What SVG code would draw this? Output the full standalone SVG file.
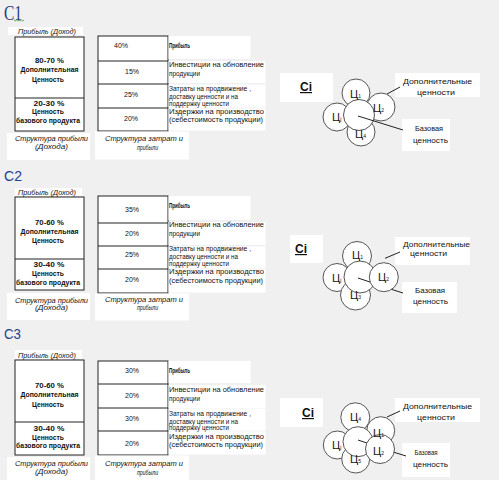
<svg xmlns="http://www.w3.org/2000/svg" width="499" height="480" viewBox="0 0 499 480">
<style>
.bg{fill:#f0f0f0}
.wb{fill:#fff}
.box{fill:#fff;stroke:#222;stroke-width:1}
.div{stroke:#222;stroke-width:1}
.t{font-family:"Liberation Sans",Arial,sans-serif;font-size:7px;fill:#111}
.b{font-weight:bold}
.i{font-style:italic}
.c{text-anchor:middle}
.circ{fill:#fff;stroke:#555;stroke-width:1}
.ts{font-family:"Liberation Sans",Arial,sans-serif;font-size:11px;fill:#111}
.sub{font-size:5px}
.ci{font-family:"Liberation Sans",Arial,sans-serif;font-size:12px;font-weight:bold;fill:#111;text-decoration:underline}
.lbl{font-family:"Liberation Sans",Arial,sans-serif;font-size:8px;fill:#111}
.con{stroke:#222;stroke-width:1;fill:none}
.ttl2{font-family:"Liberation Sans",Arial,sans-serif;font-size:15px;fill:#23408e}
</style>
<rect class="bg" x="0" y="0" width="499" height="480"/>

<!-- Section 1 -->
<g id="title1">
<text x="4" y="19.5" font-family="Liberation Serif, serif" font-size="20" fill="#1f3a7a" textLength="18" lengthAdjust="spacingAndGlyphs">C1</text>
<path d="M14,20 l1.25,1 l1.25,-1 l1.25,1 l1.25,-1 l1.25,1 l1.25,-1 l1.25,1 l1.25,-1" fill="none" stroke="#3a9a3a" stroke-width="0.8"/>
</g>
<g id="profit1">
<rect class="wb" x="8" y="27" width="75" height="8"/>
<text class="t i c" x="47" y="33.5" textLength="58" lengthAdjust="spacingAndGlyphs">Прибыль (Доход)</text>
<rect class="box" x="15" y="37" width="69" height="94"/>
<line class="div" x1="15" y1="98" x2="84" y2="98"/>
<text class="t b c" x="49.5" y="62.5" textLength="29" lengthAdjust="spacingAndGlyphs">80-70 %</text>
<text class="t b c" x="49.5" y="71.5" textLength="58" lengthAdjust="spacingAndGlyphs">Дополнительная</text>
<text class="t b c" x="48" y="81.5" textLength="32" lengthAdjust="spacingAndGlyphs">Ценность</text>
<text class="t b c" x="49" y="105.5" textLength="31" lengthAdjust="spacingAndGlyphs">20-30 %</text>
<text class="t b c" x="48" y="113.5" textLength="32" lengthAdjust="spacingAndGlyphs">Ценность</text>
<text class="t b c" x="48" y="122.5" textLength="64" lengthAdjust="spacingAndGlyphs">базового продукта</text>
<rect class="wb" x="7" y="133" width="83" height="27"/>
<text class="t i c" x="51.5" y="140.5" textLength="73" lengthAdjust="spacingAndGlyphs">Структура прибыли</text>
<text class="t i c" x="51.5" y="148.5" textLength="33" lengthAdjust="spacingAndGlyphs">(Дохода)</text>
</g>
<g id="cost1">
<rect class="box" x="98" y="36" width="70" height="95"/>
<line class="div" x1="98" y1="61" x2="168" y2="61"/>
<line class="div" x1="98" y1="84" x2="168" y2="84"/>
<line class="div" x1="98" y1="108" x2="168" y2="108"/>
<text class="t c" x="121" y="47.5">40%</text>
<text class="t c" x="132" y="73.5">15%</text>
<text class="t c" x="131" y="96.5">25%</text>
<text class="t c" x="131" y="120.5">20%</text>
<rect class="wb" x="168.5" y="36" width="82" height="23"/>
<rect class="wb" x="168.5" y="61" width="97" height="22"/>
<rect class="wb" x="168.5" y="84.5" width="97" height="23"/>
<rect class="wb" x="168.5" y="108.5" width="97" height="22"/>
<text class="t b" x="169" y="47.5" textLength="21" lengthAdjust="spacingAndGlyphs">Прибыль</text>
<text class="t" x="169" y="66.5" textLength="95" lengthAdjust="spacingAndGlyphs">Инвестиции на обновление</text>
<text class="t" x="169" y="75.5" textLength="31" lengthAdjust="spacingAndGlyphs">продукции</text>
<text class="t" x="169" y="90.5" textLength="82" lengthAdjust="spacingAndGlyphs">Затраты на продвижение ,</text>
<text class="t" x="169" y="98.5" textLength="69" lengthAdjust="spacingAndGlyphs">доставку ценности и на</text>
<text class="t" x="169" y="105.5" textLength="60" lengthAdjust="spacingAndGlyphs">поддержку ценности</text>
<text class="t" x="169" y="113.5" textLength="95" lengthAdjust="spacingAndGlyphs">Издержки на производство</text>
<text class="t" x="169" y="121.5" textLength="94" lengthAdjust="spacingAndGlyphs">(себестоимость продукции)</text>
<rect class="wb" x="95" y="131.5" width="94" height="28"/>
<text class="t i c" x="144" y="140.5" textLength="78" lengthAdjust="spacingAndGlyphs">Структура затрат и</text>
<text class="t i c" x="147.5" y="149.5" textLength="21" lengthAdjust="spacingAndGlyphs">прибыли</text>
</g>
<g id="ci1">
<rect class="wb" x="280" y="73" width="53" height="29"/>
<text class="ci" x="300" y="91">Ci</text>
</g>
<g id="values1">
<circle class="circ" cx="356" cy="93" r="14"/>
<circle class="circ" cx="381" cy="107" r="14"/>
<circle class="circ" cx="337" cy="117" r="14"/>
<circle class="circ" cx="361" cy="132" r="14"/>
<circle class="circ" cx="359" cy="115" r="15.5"/>
<text class="ts" x="350" y="97.5">Ц<tspan class="sub">1</tspan></text>
<text class="ts" x="373" y="112">Ц<tspan class="sub">2</tspan></text>
<text class="ts" x="332" y="120.5">Ц<tspan class="sub">j</tspan></text>
<text class="ts" x="355" y="138">Ц<tspan class="sub">4</tspan></text>
</g>
<g id="labels1">
<rect class="wb" x="395" y="73" width="85" height="24"/>
<text class="lbl c" x="437.5" y="84" textLength="69" lengthAdjust="spacingAndGlyphs">Дополнительные</text>
<text class="lbl c" x="436" y="95" textLength="38" lengthAdjust="spacingAndGlyphs">ценности</text>
<rect class="wb" x="402" y="119" width="48" height="32"/>
<text class="lbl c" x="429" y="130.5" textLength="28" lengthAdjust="spacingAndGlyphs">Базовая</text>
<text class="lbl c" x="430.5" y="142.5" textLength="35" lengthAdjust="spacingAndGlyphs">ценность</text>
</g>

<!-- Section 2 -->
<g id="title2">
<text class="ttl2" x="4" y="181" textLength="18" lengthAdjust="spacingAndGlyphs">C2</text>
</g>
<g id="profit2">
<rect class="wb" x="15" y="188" width="67" height="8"/>
<text class="t i c" x="47" y="194.5" textLength="58" lengthAdjust="spacingAndGlyphs">Прибыль (Доход)</text>
<rect class="box" x="15" y="197" width="69" height="93"/>
<line class="div" x1="15" y1="259" x2="84" y2="259"/>
<text class="t b c" x="49.5" y="224.5" textLength="29" lengthAdjust="spacingAndGlyphs">70-60 %</text>
<text class="t b c" x="49.5" y="233.5" textLength="58" lengthAdjust="spacingAndGlyphs">Дополнительная</text>
<text class="t b c" x="48" y="242.5" textLength="32" lengthAdjust="spacingAndGlyphs">Ценность</text>
<text class="t b c" x="49" y="266.5" textLength="31" lengthAdjust="spacingAndGlyphs">30-40 %</text>
<text class="t b c" x="48" y="275.5" textLength="32" lengthAdjust="spacingAndGlyphs">Ценность</text>
<text class="t b c" x="48" y="284.5" textLength="64" lengthAdjust="spacingAndGlyphs">базового продукта</text>
<rect class="wb" x="7" y="293" width="83" height="27"/>
<text class="t i c" x="51.5" y="302.5" textLength="73" lengthAdjust="spacingAndGlyphs">Структура прибыли</text>
<text class="t i c" x="51.5" y="310" textLength="33" lengthAdjust="spacingAndGlyphs">(Дохода)</text>
</g>
<g id="cost2">
<rect class="box" x="98" y="196" width="70" height="97"/>
<line class="div" x1="98" y1="223" x2="168" y2="223"/>
<line class="div" x1="98" y1="246" x2="168" y2="246"/>
<line class="div" x1="98" y1="269" x2="168" y2="269"/>
<text class="t c" x="132" y="211.5">35%</text>
<text class="t c" x="132" y="235.5">20%</text>
<text class="t c" x="132" y="256.5">25%</text>
<text class="t c" x="132" y="281.5">20%</text>
<rect class="wb" x="168.5" y="196" width="82" height="24"/>
<rect class="wb" x="168.5" y="222" width="97" height="23"/>
<rect class="wb" x="168.5" y="246.5" width="97" height="22"/>
<rect class="wb" x="168.5" y="269.5" width="97" height="23"/>
<text class="t b" x="169" y="207.5" textLength="21" lengthAdjust="spacingAndGlyphs">Прибыль</text>
<text class="t" x="169" y="226.5" textLength="95" lengthAdjust="spacingAndGlyphs">Инвестиции на обновление</text>
<text class="t" x="169" y="235.5" textLength="31" lengthAdjust="spacingAndGlyphs">продукции</text>
<text class="t" x="169" y="250.5" textLength="82" lengthAdjust="spacingAndGlyphs">Затраты на продвижение ,</text>
<text class="t" x="169" y="258.5" textLength="69" lengthAdjust="spacingAndGlyphs">доставку ценности и на</text>
<text class="t" x="169" y="265.5" textLength="60" lengthAdjust="spacingAndGlyphs">поддержку ценности</text>
<text class="t" x="169" y="273.5" textLength="95" lengthAdjust="spacingAndGlyphs">Издержки на производство</text>
<text class="t" x="169" y="282.5" textLength="94" lengthAdjust="spacingAndGlyphs">(себестоимость продукции)</text>
<rect class="wb" x="95" y="293.5" width="94" height="27"/>
<text class="t i c" x="144" y="301.5" textLength="78" lengthAdjust="spacingAndGlyphs">Структура затрат и</text>
<text class="t i c" x="147.5" y="309.5" textLength="21" lengthAdjust="spacingAndGlyphs">прибыли</text>
</g>
<g id="ci2">
<rect class="wb" x="290" y="235" width="33" height="28"/>
<text class="ci" x="295" y="253">Ci</text>
</g>
<g id="values2">
<circle class="circ" cx="357" cy="256" r="14.5"/>
<circle class="circ" cx="337" cy="277.5" r="14"/>
<circle class="circ" cx="355.5" cy="295" r="15"/>
<circle class="circ" cx="360" cy="277" r="16"/>
<circle class="circ" cx="383.8" cy="277.2" r="14.5"/>
<text class="ts" x="352" y="259">Ц<tspan class="sub">1</tspan></text>
<text class="ts" x="378" y="281">Ц<tspan class="sub">2</tspan></text>
<text class="ts" x="332" y="282">Ц<tspan class="sub">j</tspan></text>
<text class="ts" x="350" y="298.5">Ц<tspan class="sub">3</tspan></text>
</g>
<g id="labels2">
<rect class="wb" x="395" y="237" width="75" height="28"/>
<text class="lbl c" x="436.5" y="247" textLength="67" lengthAdjust="spacingAndGlyphs">Дополнительные</text>
<text class="lbl c" x="428.5" y="256" textLength="37" lengthAdjust="spacingAndGlyphs">ценности</text>
<rect class="wb" x="402" y="282" width="55" height="31"/>
<text class="lbl c" x="430" y="292.5" textLength="30" lengthAdjust="spacingAndGlyphs">Базовая</text>
<text class="lbl c" x="430.5" y="303.5" textLength="35" lengthAdjust="spacingAndGlyphs">ценность</text>
</g>

<!-- Section 3 -->
<g id="title3">
<text class="ttl2" x="4" y="339" textLength="17" lengthAdjust="spacingAndGlyphs">C3</text>
</g>
<g id="profit3">
<rect class="wb" x="15" y="350" width="67" height="9"/>
<text class="t i c" x="47" y="357.5" textLength="58" lengthAdjust="spacingAndGlyphs">Прибыль (Доход)</text>
<rect class="box" x="15" y="360" width="69" height="95"/>
<line class="div" x1="15" y1="422" x2="84" y2="422"/>
<text class="t b c" x="49.5" y="387.5" textLength="29" lengthAdjust="spacingAndGlyphs">70-60 %</text>
<text class="t b c" x="49.5" y="396.5" textLength="58" lengthAdjust="spacingAndGlyphs">Дополнительная</text>
<text class="t b c" x="48" y="406.5" textLength="32" lengthAdjust="spacingAndGlyphs">Ценность</text>
<text class="t b c" x="49" y="430.5" textLength="31" lengthAdjust="spacingAndGlyphs">30-40 %</text>
<text class="t b c" x="48" y="439.5" textLength="32" lengthAdjust="spacingAndGlyphs">Ценность</text>
<text class="t b c" x="48" y="447.5" textLength="64" lengthAdjust="spacingAndGlyphs">базового продукта</text>
<rect class="wb" x="7" y="457" width="83" height="23"/>
<text class="t i c" x="51.5" y="465.5" textLength="73" lengthAdjust="spacingAndGlyphs">Структура прибыли</text>
<text class="t i c" x="51.5" y="473.5" textLength="33" lengthAdjust="spacingAndGlyphs">(Дохода)</text>
</g>
<g id="cost3">
<rect class="box" x="98" y="361" width="70" height="94"/>
<line class="div" x1="98" y1="384" x2="168" y2="384"/>
<line class="div" x1="98" y1="408" x2="168" y2="408"/>
<line class="div" x1="98" y1="431" x2="168" y2="431"/>
<text class="t c" x="132" y="372.5">30%</text>
<text class="t c" x="132" y="397.5">20%</text>
<text class="t c" x="132" y="420.5">30%</text>
<text class="t c" x="132" y="445.5">20%</text>
<rect class="wb" x="168.5" y="361" width="82" height="22"/>
<rect class="wb" x="168.5" y="385" width="97" height="23"/>
<rect class="wb" x="168.5" y="408.5" width="97" height="22"/>
<rect class="wb" x="168.5" y="431.5" width="97" height="23"/>
<text class="t b" x="169" y="372.5" textLength="21" lengthAdjust="spacingAndGlyphs">Прибыль</text>
<text class="t" x="169" y="391.5" textLength="95" lengthAdjust="spacingAndGlyphs">Инвестиции на обновление</text>
<text class="t" x="169" y="400.5" textLength="31" lengthAdjust="spacingAndGlyphs">продукции</text>
<text class="t" x="169" y="415.5" textLength="82" lengthAdjust="spacingAndGlyphs">Затраты на продвижение ,</text>
<text class="t" x="169" y="423.5" textLength="69" lengthAdjust="spacingAndGlyphs">доставку ценности и на</text>
<text class="t" x="169" y="430" textLength="60" lengthAdjust="spacingAndGlyphs">поддержку ценности</text>
<text class="t" x="169" y="438.5" textLength="95" lengthAdjust="spacingAndGlyphs">Издержки на производство</text>
<text class="t" x="169" y="446.5" textLength="94" lengthAdjust="spacingAndGlyphs">(себестоимость продукции)</text>
<rect class="wb" x="95" y="455.5" width="94" height="24.5"/>
<text class="t i c" x="144" y="465.5" textLength="78" lengthAdjust="spacingAndGlyphs">Структура затрат и</text>
<text class="t i c" x="147.5" y="474.5" textLength="21" lengthAdjust="spacingAndGlyphs">прибыли</text>
</g>
<g id="ci3">
<rect class="wb" x="280" y="398" width="43" height="29"/>
<text class="ci" x="302" y="417">Ci</text>
</g>
<g id="values3">
<circle class="circ" cx="355.3" cy="417.3" r="14.5"/>
<circle class="circ" cx="380.7" cy="430.7" r="14"/>
<circle class="circ" cx="337.3" cy="445" r="14"/>
<circle class="circ" cx="355.7" cy="459" r="14"/>
<circle class="circ" cx="358" cy="441.7" r="15"/>
<circle class="circ" cx="380" cy="449" r="14.5"/>
<text class="ts" x="350" y="421">Ц<tspan class="sub">4</tspan></text>
<text class="ts" x="373" y="437">Ц<tspan class="sub">1</tspan></text>
<text class="ts" x="332" y="448.5">Ц<tspan class="sub">j</tspan></text>
<text class="ts" x="350" y="462.5">Ц<tspan class="sub">5</tspan></text>
<text class="ts" x="373" y="455">Ц<tspan class="sub">2</tspan></text>
</g>
<g id="labels3">
<rect class="wb" x="395" y="398" width="85" height="24"/>
<text class="lbl c" x="437.5" y="408.5" textLength="69" lengthAdjust="spacingAndGlyphs">Дополнительные</text>
<text class="lbl c" x="436" y="419.5" textLength="38" lengthAdjust="spacingAndGlyphs">ценности</text>
<rect class="wb" x="402" y="443" width="48" height="34"/>
<text class="lbl c" x="426" y="454.5" textLength="23" lengthAdjust="spacingAndGlyphs">Базовая</text>
<text class="lbl c" x="430.5" y="466.5" textLength="35" lengthAdjust="spacingAndGlyphs">ценность</text>
</g>

<g id="connectors">
<line class="con" x1="358" y1="116" x2="403" y2="130"/>
<line class="con" x1="387" y1="94" x2="400" y2="87"/>
<line class="con" x1="358" y1="278" x2="370.2" y2="282.1"/>
<line class="con" x1="391.6" y1="289.4" x2="403" y2="293"/>
<line class="con" x1="385" y1="258.3" x2="400" y2="252"/>
<line class="con" x1="358" y1="440" x2="366.8" y2="443"/>
<line class="con" x1="394.1" y1="452.3" x2="406" y2="456"/>
<line class="con" x1="387" y1="417" x2="400" y2="411"/>
</g>
</svg>
